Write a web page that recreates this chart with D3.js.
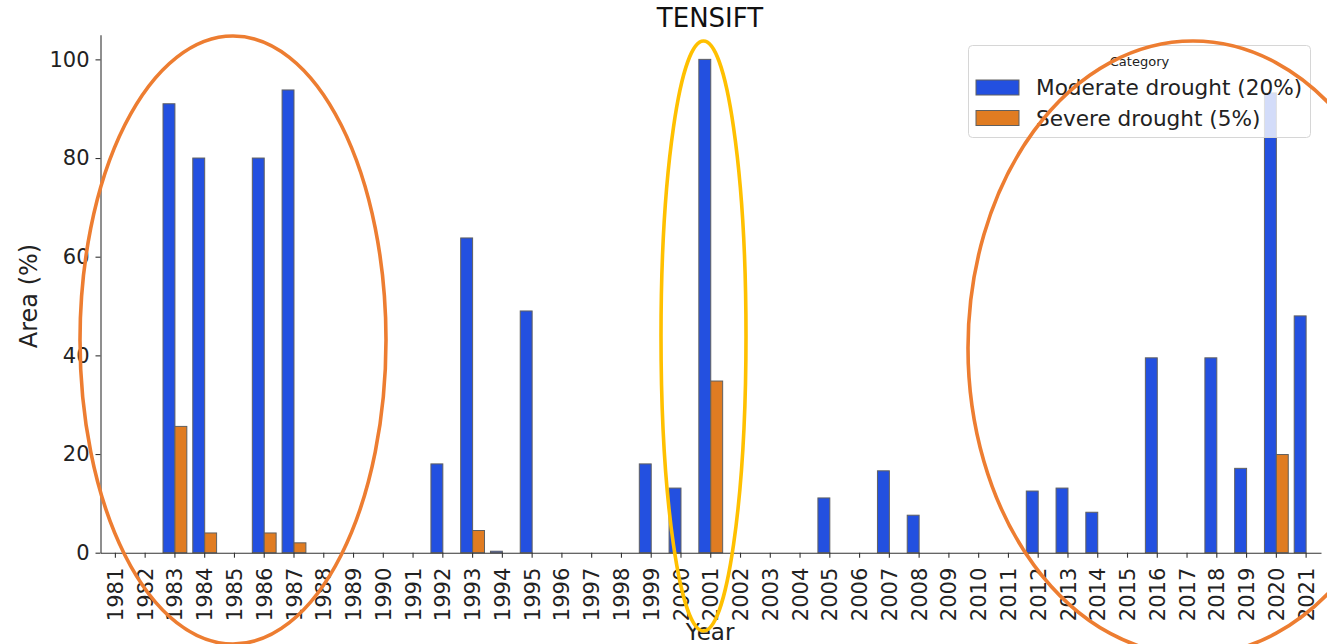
<!DOCTYPE html>
<html>
<head>
<meta charset="utf-8">
<script src="https://cdn.jsdelivr.net/npm/d3@7"></script>
<style>
  html, body { margin: 0; padding: 0; background: #fff; }
  svg { display: block; font-family: "DejaVu Sans", sans-serif; }
</style>
</head>
<body>
<svg id="chart" width="1327" height="644"></svg>
<script>
// Drought-affected area per year, Tensift basin
const years = ["1981","1982","1983","1984","1985","1986","1987","1988","1989","1990",
  "1991","1992","1993","1994","1995","1996","1997","1998","1999","2000",
  "2001","2002","2003","2004","2005","2006","2007","2008","2009","2010",
  "2011","2012","2013","2014","2015","2016","2017","2018","2019","2020","2021"];

const moderate = [0, 0, 91.0, 80.0, 0, 80.0, 93.8, 0, 0, 0,
  0, 18.0, 63.8, 0.3, 49.0, 0, 0, 0, 18.0, 13.1,
  100, 0, 0, 0, 11.1, 0, 16.6, 7.6, 0, 0,
  0, 12.5, 13.1, 8.2, 0, 39.5, 0, 39.5, 17.1, 93.2, 48.0];

const severe = [0, 0, 25.6, 4.0, 0, 4.0, 2.0, 0, 0, 0,
  0, 0, 4.5, 0, 0, 0, 0, 0, 0, 0,
  34.8, 0, 0, 0, 0, 0, 0, 0, 0, 0,
  0, 0, 0, 0, 0, 0, 0, 0, 0, 19.9, 0];

const seriesNames = ["Moderate drought (20%)", "Severe drought (5%)"];
const seriesColors = ["#2350e0", "#e07c22"];
const yTicks = [0, 20, 40, 60, 80, 100];

const svg = d3.select("#chart");
const margin = { left: 100.5, right: 6, top: 34.7, bottom: 91.3 };
const W = 1327, H = 644;
const x0 = margin.left, x1 = W - margin.right;
const yTop = margin.top, yBot = H - margin.bottom;

const x = d3.scaleBand().domain(years).range([x0, x1]).paddingInner(0.2).paddingOuter(0.1);
const xs = d3.scaleBand().domain([0, 1]).range([0, x.bandwidth()]);
const y = d3.scaleLinear().domain([0, 105]).range([yBot, yTop]);

// bars
const rows = years.map((yr, i) => ({ yr, vals: [moderate[i], severe[i]] }));
const g = svg.append("g");
rows.forEach(r => {
  r.vals.forEach((v, k) => {
    if (v <= 0) return;
    g.append("rect")
      .attr("x", x(r.yr) + xs(k))
      .attr("y", y(v))
      .attr("width", xs.bandwidth())
      .attr("height", y(0) - y(v))
      .attr("fill", seriesColors[k])
      .attr("stroke", "#606060")
      .attr("stroke-width", 1);
  });
});

// axes
const xAxis = d3.axisBottom(x).tickSize(5).tickPadding(6).tickSizeOuter(0);
const gx = svg.append("g").attr("transform", `translate(0,${yBot})`).call(xAxis);
gx.select(".domain").attr("stroke", "#333").attr("stroke-width", 1.1);
gx.selectAll(".tick line").attr("stroke", "#333").attr("stroke-width", 1.1);
gx.selectAll(".tick text")
  .attr("font-size", 21)
  .attr("font-family", "DejaVu Sans")
  .attr("fill", "#222")
  .attr("transform", "rotate(-90)")
  .attr("text-anchor", "end")
  .attr("x", -15)
  .attr("y", 0)
  .attr("dy", "0.36em");

const yAxis = d3.axisLeft(y).tickValues(yTicks).tickSize(5).tickPadding(6).tickSizeOuter(0);
const gy = svg.append("g").attr("transform", `translate(${x0},0)`).call(yAxis);
gy.select(".domain").attr("stroke", "#333").attr("stroke-width", 1.1);
gy.selectAll(".tick line").attr("stroke", "#333").attr("stroke-width", 1.1);
gy.selectAll(".tick text")
  .attr("font-size", 21)
  .attr("font-family", "DejaVu Sans")
  .attr("fill", "#222");

// titles
svg.append("text").attr("x", 710).attr("y", 27).attr("text-anchor", "middle")
  .attr("font-size", 26).attr("fill", "#111").text("TENSIFT");
svg.append("text").attr("transform", "translate(37,296) rotate(-90)")
  .attr("text-anchor", "middle").attr("font-size", 24).attr("fill", "#222").text("Area (%)");
svg.append("text").attr("x", 710).attr("y", 640).attr("text-anchor", "middle")
  .attr("font-size", 23).attr("fill", "#222").text("Year");

// legend
const lg = svg.append("g");
lg.append("rect").attr("x", 968.5).attr("y", 45.5).attr("width", 342).attr("height", 92)
  .attr("rx", 4).attr("fill", "#fff").attr("fill-opacity", 0.8)
  .attr("stroke", "#d6d6d6").attr("stroke-width", 1);
lg.append("text").attr("x", 1139.5).attr("y", 66).attr("text-anchor", "middle")
  .attr("font-size", 13).attr("fill", "#222").text("Category");
seriesNames.forEach((name, k) => {
  const by = 80 + k * 30.5;
  lg.append("rect").attr("x", 976).attr("y", by).attr("width", 43).attr("height", 15)
    .attr("fill", seriesColors[k]).attr("stroke", "#606060").attr("stroke-width", 1);
  lg.append("text").attr("x", 1036).attr("y", by + 15).attr("font-size", 21.6)
    .attr("fill", "#222").text(name);
});

// highlight rings around the drought periods
const rings = [
  { cx: 233, cy: 340, rx: 153, ry: 304, c: "#ed7d31" },
  { cx: 703.5, cy: 336, rx: 42.5, ry: 295, c: "#ffc000" },
  { cx: 1193, cy: 348, rx: 225, ry: 307, c: "#ed7d31" }
];
svg.append("g").selectAll("ellipse").data(rings).join("ellipse")
  .attr("cx", d => d.cx).attr("cy", d => d.cy)
  .attr("rx", d => d.rx).attr("ry", d => d.ry)
  .attr("fill", "none").attr("stroke", d => d.c).attr("stroke-width", 3.6);
</script>
</body>
</html>
